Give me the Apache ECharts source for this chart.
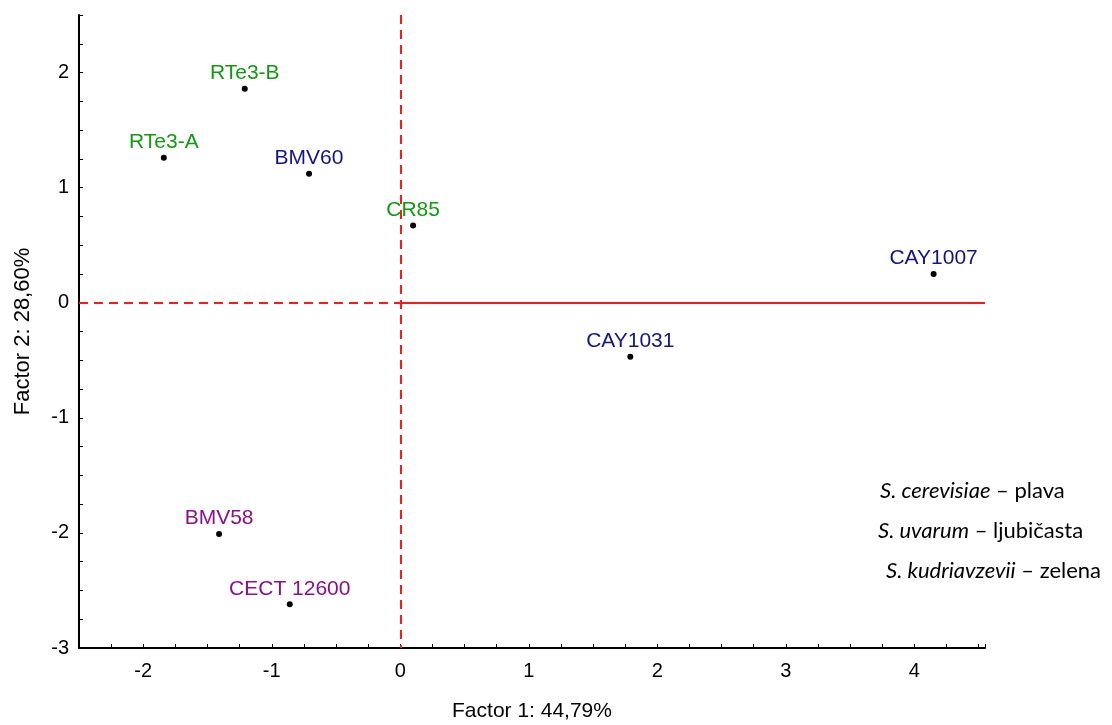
<!DOCTYPE html>
<html>
<head>
<meta charset="utf-8">
<script src="https://cdn.jsdelivr.net/npm/echarts@6/dist/echarts.min.js"></script>
<style>html,body{margin:0;padding:0;background:#fff}#c{width:1112px;height:725px}</style>
</head>
<body>
<div id="c"></div>
<script>
// Strain names, factor scores and species group
const names  = ['RTe3-B', 'RTe3-A', 'BMV60', 'CR85', 'CAY1007', 'CAY1031', 'BMV58', 'CECT 12600'];
const factor1 = [-1.21, -1.84, -0.71, 0.10, 4.15, 1.79, -1.41, -0.86];
const factor2 = [1.86, 1.26, 1.12, 0.67, 0.25, -0.47, -2.01, -2.62];
const groups = ['kud', 'kud', 'cer', 'kud', 'cer', 'cer', 'uva', 'uva'];
const groupKeys = ['cer', 'uva', 'kud'];
const groupColors = { cer: '#14148a', uva: '#8a1088', kud: '#119a11' };
const legendItalic = ['S. cerevisiae', 'S. uvarum', 'S. kudriavzevii'];
const legendPlain = [' – plava', ' – ljubičasta', ' – zelena'];
const xTicks = [-2, -1, 0, 1, 2, 3, 4];
const yTicks = [-3, -2, -1, 0, 1, 2];
const xTitle = 'Factor 1: 44,79%';
const yTitle = 'Factor 2: 28,60%';

const X_MIN = -2.5, X_MAX = 4.55, Y_MIN = -3, Y_MAX = 2.5;
const FONT = "'Liberation Sans', Arial, sans-serif";
const chart = echarts.init(document.getElementById('c'), null, { renderer: 'canvas' });

const series = groupKeys.map(function (g, gi) {
  const data = [];
  names.forEach(function (n, i) {
    if (groups[i] === g) data.push({ name: n, value: [factor1[i], factor2[i]] });
  });
  const s = {
    type: 'scatter',
    data: data,
    symbol: 'circle',
    symbolSize: 6,
    itemStyle: { color: '#000', opacity: 1 },
    label: {
      show: true, position: 'top', distance: 2, formatter: '{b}',
      color: groupColors[g], opacity: 1, fontSize: 21, fontFamily: FONT
    },
    emphasis: { disabled: true },
    z: 5
  };
  if (gi === 0) {
    s.markLine = {
      silent: true, symbol: 'none', animation: false,
      label: { show: false },
      emphasis: { disabled: true },
      data: [
        [{ coord: [0, Y_MAX], lineStyle: { color: '#ff1a1a', width: 2, type: [9, 6], opacity: 1 } }, { coord: [0, Y_MIN] }],
        [{ coord: [X_MIN, 0], lineStyle: { color: '#ff1a1a', width: 2, type: [9, 6], opacity: 1 } }, { coord: [0, 0] }],
        [{ coord: [0, 0], lineStyle: { color: '#ff1a1a', width: 2, type: 'solid', opacity: 1 } }, { coord: [X_MAX, 0] }]
      ]
    };
  }
  return s;
});

const legendGraphics = legendItalic.map(function (it, i) {
  const pos = [[880, 493], [878, 533], [886, 573]][i];
  return {
    type: 'text', left: pos[0], top: pos[1] - 13,
    style: {
      text: '{i|' + it + '}{n|' + legendPlain[i] + '}',
      rich: {
        i: { fontStyle: 'italic', fontSize: 22, fontFamily: 'Lato, sans-serif', fill: '#000' },
        n: { fontSize: 22, fontFamily: 'Lato, sans-serif', fill: '#000' }
      }
    }
  };
});

const option = {
  animation: false,
  backgroundColor: '#fff',
  grid: { left: 79, right: 127, top: 15, bottom: 77, containLabel: false, outerBoundsMode: 'none' },
  xAxis: {
    type: 'value', min: X_MIN, max: X_MAX, interval: 0.25,
    name: xTitle, nameLocation: 'middle', nameGap: 53,
    nameTextStyle: { color: '#000', fontSize: 21, fontFamily: FONT },
    axisLine: { show: true, onZero: false, lineStyle: { color: '#000', width: 2 } },
    axisTick: { show: true, inside: true, length: 4, lineStyle: { color: '#000', width: 1 } },
    splitLine: { show: false },
    axisLabel: {
      margin: 13, color: '#000', fontSize: 20, fontFamily: FONT,
      formatter: function (v) { return xTicks.indexOf(v) >= 0 ? String(v) : ''; }
    }
  },
  yAxis: {
    type: 'value', min: Y_MIN, max: Y_MAX, interval: 0.25,
    name: yTitle, nameLocation: 'middle', nameGap: 45,
    nameTextStyle: { color: '#000', fontSize: 22, fontFamily: FONT },
    axisLine: { show: true, onZero: false, lineStyle: { color: '#000', width: 2 } },
    axisTick: { show: true, inside: true, length: 4, lineStyle: { color: '#000', width: 1 } },
    splitLine: { show: false },
    axisLabel: {
      margin: 10, color: '#000', fontSize: 20, fontFamily: FONT,
      formatter: function (v) { return yTicks.indexOf(v) >= 0 ? String(v) : ''; }
    }
  },
  graphic: legendGraphics,
  series: series
};
chart.setOption(option);
</script>
</body>
</html>
